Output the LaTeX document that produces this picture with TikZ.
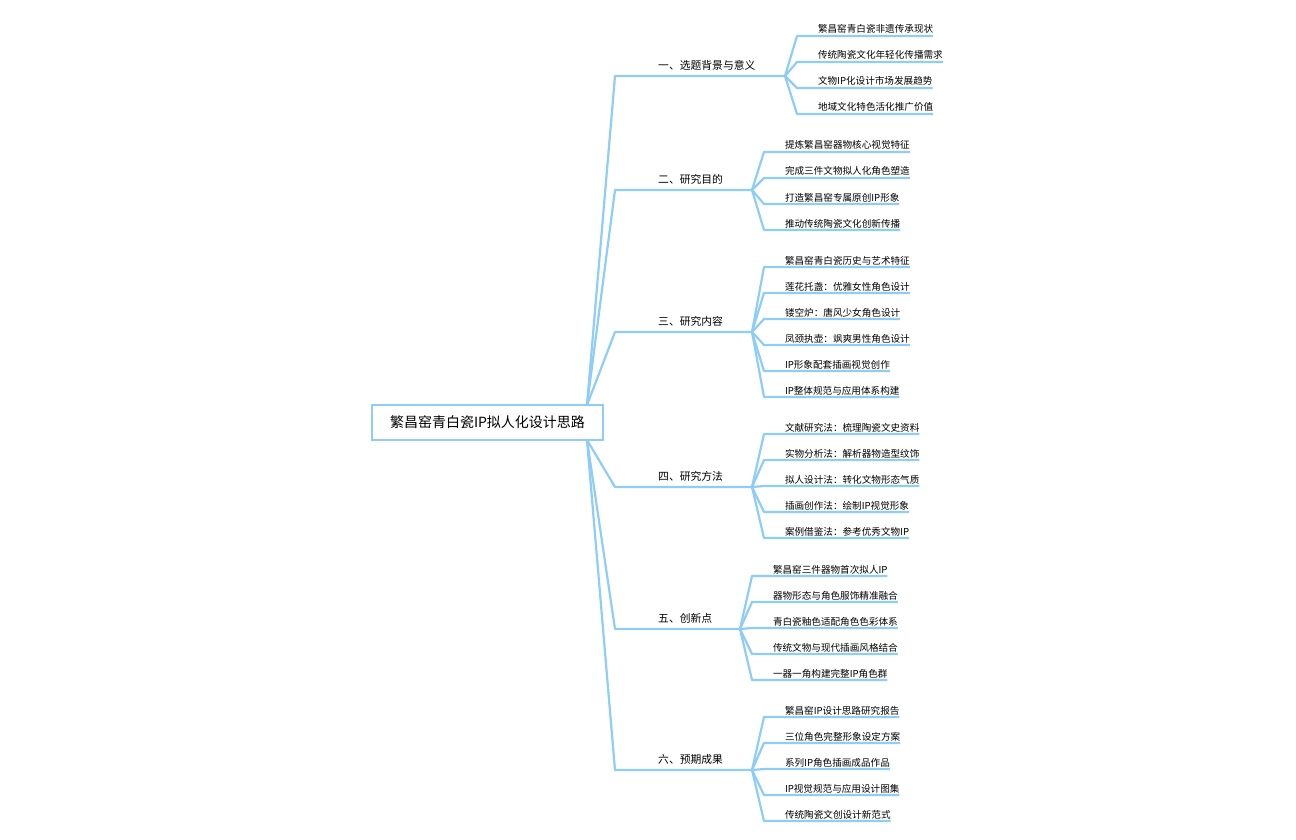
\documentclass[tikz,border=0pt]{standalone}
\usepackage{fontspec}
\setmainfont{Noto Sans CJK SC}
\begin{document}
\begin{tikzpicture}[x=1pt,y=-1pt,
  ln/.style={draw=blue!30!cyan!45, line width=2.2pt, line join=round},
  ln2/.style={draw=blue!30!cyan!45, line width=2pt},
  child/.style={anchor=south west, font=\fontsize{9.6}{11}\selectfont, inner ysep=3pt, outer sep=0pt},
  blab/.style={anchor=south west, font=\fontsize{10.8}{12}\selectfont, inner sep=0pt},
  rootn/.style={draw=blue!30!cyan!45, line width=2.2pt, minimum width=231pt, minimum height=35pt, font=\fontsize{14}{16}\selectfont, inner sep=0pt}]
\definecolor{lb}{HTML}{8ECDF8}
\tikzset{ln/.style={draw=lb, line width=2.2pt, line join=round}, rootn/.append style={draw=lb}}
\useasboundingbox (0,0) rectangle (1296,840);
\node[rootn] (root) at (487.5,422.5) {繁昌窑青白瓷IP拟人化设计思路};
\coordinate (rt) at (587,405);
\coordinate (rb) at (587,440);
% branches: name, y underline, fan origin x, label, children start x, text pad
\def\branch#1#2#3#4#5#6{%
  \coordinate (#1o) at (#3,#2);
  \draw[ln] (#6) -- (615,#2) -- (#1o);
  \node[blab] (#1l) at (658,#2-5) {#4};
}
\def\kid#1#2#3#4#5{% name, origin, y, startx, text
  \node[child, inner xsep=0pt, text depth=0pt] (#1) at (#4,#3) {\hspace{21pt}#5\hspace{12pt}};
  \draw[ln] (#2) -- (#1.south west) -- (#1.south east);
}
\branch{b1}{76}{785}{一、选题背景与意义}{}{rt}
\kid{c11}{b1o}{36}{797}{繁昌窑青白瓷非遗传承现状}
\kid{c12}{b1o}{62}{797}{传统陶瓷文化年轻化传播需求}
\kid{c13}{b1o}{88}{797}{文物IP化设计市场发展趋势}
\kid{c14}{b1o}{114}{797}{地域文化特色活化推广价值}
\branch{b2}{190}{752}{二、研究目的}{}{rt}
\kid{c21}{b2o}{152}{764}{提炼繁昌窑器物核心视觉特征}
\kid{c22}{b2o}{178}{764}{完成三件文物拟人化角色塑造}
\kid{c23}{b2o}{204}{764}{打造繁昌窑专属原创IP形象}
\kid{c24}{b2o}{230}{764}{推动传统陶瓷文化创新传播}
\branch{b3}{332}{752}{三、研究内容}{}{rt}
\kid{c31}{b3o}{267}{764}{繁昌窑青白瓷历史与艺术特征}
\kid{c32}{b3o}{293}{764}{莲花托盏：优雅女性角色设计}
\kid{c33}{b3o}{319}{764}{镂空炉：唐风少女角色设计}
\kid{c34}{b3o}{345}{764}{凤颈执壶：飒爽男性角色设计}
\kid{c35}{b3o}{371}{764}{IP形象配套插画视觉创作}
\kid{c36}{b3o}{397}{764}{IP整体规范与应用体系构建}
\branch{b4}{487}{752}{四、研究方法}{}{rb}
\kid{c41}{b4o}{434}{764}{文献研究法：梳理陶瓷文史资料}
\kid{c42}{b4o}{460}{764}{实物分析法：解析器物造型纹饰}
\kid{c43}{b4o}{486}{764}{拟人设计法：转化文物形态气质}
\kid{c44}{b4o}{512}{764}{插画创作法：绘制IP视觉形象}
\kid{c45}{b4o}{538}{764}{案例借鉴法：参考优秀文物IP}
\branch{b5}{629}{740}{五、创新点}{}{rb}
\kid{c51}{b5o}{576}{752}{繁昌窑三件器物首次拟人IP}
\kid{c52}{b5o}{602}{752}{器物形态与角色服饰精准融合}
\kid{c53}{b5o}{628}{752}{青白瓷釉色适配角色色彩体系}
\kid{c54}{b5o}{654}{752}{传统文物与现代插画风格结合}
\kid{c55}{b5o}{680}{752}{一器一角构建完整IP角色群}
\branch{b6}{770}{752}{六、预期成果}{}{rb}
\kid{c61}{b6o}{717}{764}{繁昌窑IP设计思路研究报告}
\kid{c62}{b6o}{743}{764}{三位角色完整形象设定方案}
\kid{c63}{b6o}{769}{764}{系列IP角色插画成品作品}
\kid{c64}{b6o}{795}{764}{IP视觉规范与应用设计图集}
\kid{c65}{b6o}{821}{764}{传统陶瓷文创设计新范式}
\end{tikzpicture}
\end{document}
